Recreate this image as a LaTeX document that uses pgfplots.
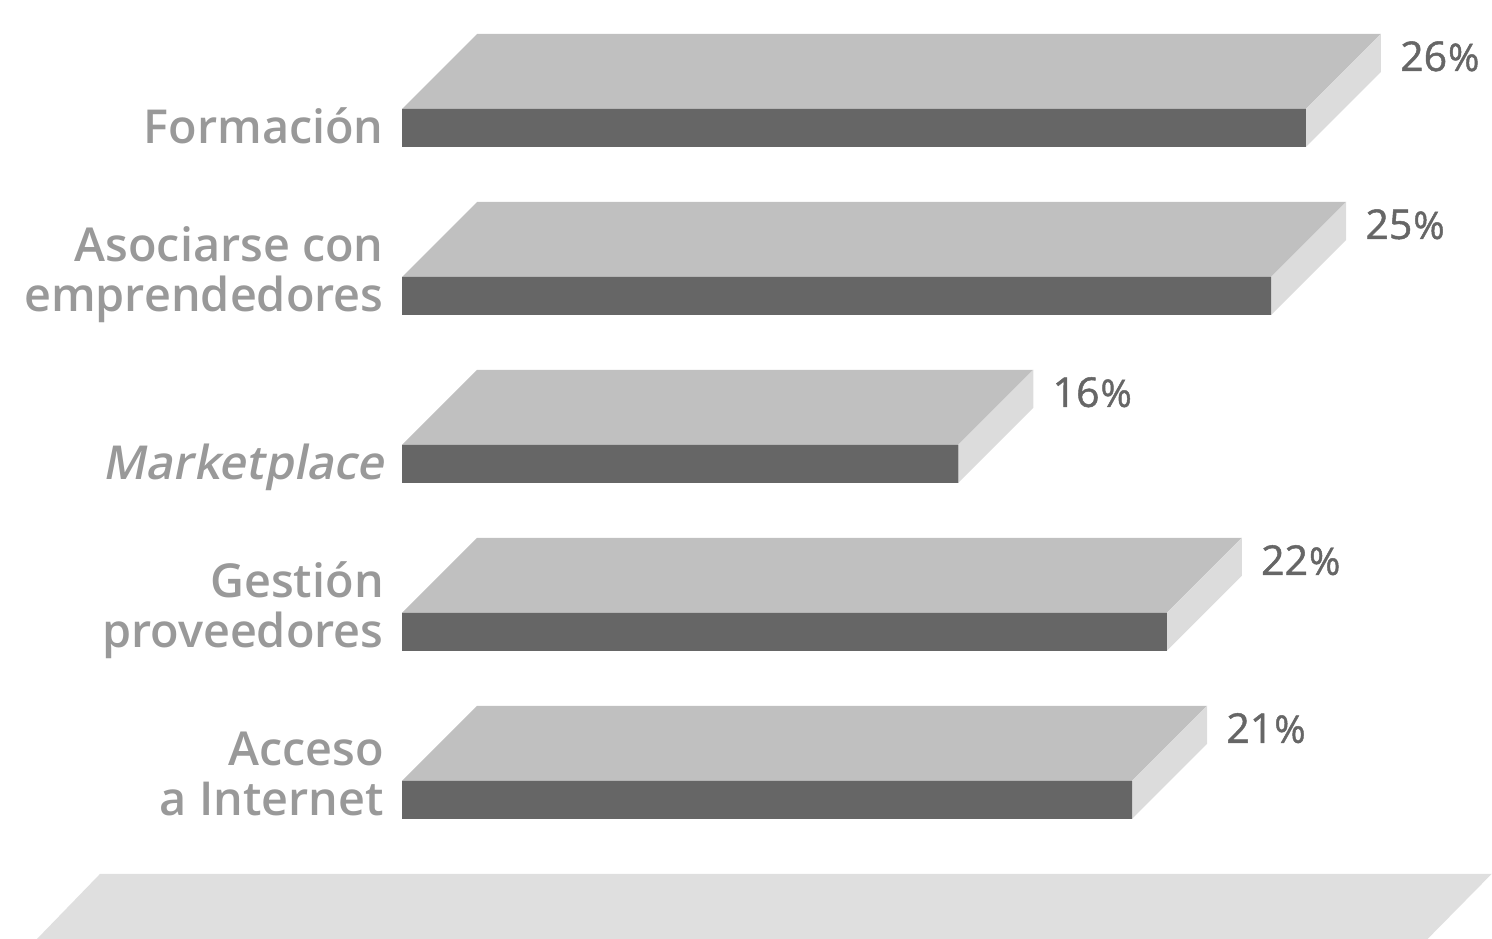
\documentclass[border=0pt]{standalone}
\usepackage{fontspec}
\setmainfont{Open Sans}
\IfFontExistsTF{Open Sans Semibold}{%
  \newfontfamily\labfont{Open Sans Semibold}[ItalicFont={Open Sans Semibold}, ItalicFeatures={FakeSlant=0.2}]%
  \newfontfamily\pctfont{Open Sans}[FakeBold=1.2]%
}{%
  \newfontfamily\labfont{Open Sans}[FakeBold=2.4, LetterSpace=3]%
  \newfontfamily\pctfont{Open Sans}[FakeBold=1.2]%
}
\usepackage{pgfplots}
\pgfplotsset{compat=1.18}
\definecolor{frontc}{HTML}{666666}
\definecolor{topc}{HTML}{C0C0C0}
\definecolor{sidec}{HTML}{DCDCDC}
\definecolor{floorc}{HTML}{DFDFDF}
\definecolor{labgray}{HTML}{999999}
\definecolor{pctgray}{HTML}{666666}
\begin{document}
\begin{tikzpicture}
\begin{axis}[
  width=746pt, height=469.5pt, scale only axis,
  xmin=-11.562, xmax=31.349, ymin=0.1726, ymax=5.7619,
  clip=false,
  axis line style={draw=none},
  major tick length=0pt,
  xtick=\empty,
  ytick={1,2,3,4,5},
  yticklabels={
    {\begin{tabular}[b]{@{}r@{}}Acceso\\a Internet\end{tabular}},
    {\begin{tabular}[b]{@{}r@{}}Gestión\\proveedores\end{tabular}},
    {\itshape Marketplace},
    {\begin{tabular}[b]{@{}r@{}}Asociarse con\\emprendedores\end{tabular}},
    {Formación}},
  yticklabel style={anchor=base east, inner sep=0pt, xshift=192pt, yshift=-8pt,
    font=\labfont\fontsize{23.4}{25}\selectfont, text=labgray},
]
% bounding helper
\addplot[draw=none, forget plot] coordinates {(-11.562,0.1726) (31.349,5.7619)};
% floor
\addplot[fill=floorc, draw=none, forget plot] coordinates {(-10.498,0.1726) (29.508,0.1726) (31.349,0.5595) (-8.686,0.5595)} -- cycle;
% top faces
\addplot[fill=topc, draw=none, forget plot] coordinates {(0,5.1131) (26,5.1131) (28.157,5.5595) (2.157,5.5595)} -- cycle;
\addplot[fill=topc, draw=none, forget plot] coordinates {(0,4.1131) (25,4.1131) (27.157,4.5595) (2.157,4.5595)} -- cycle;
\addplot[fill=topc, draw=none, forget plot] coordinates {(0,3.1131) (16,3.1131) (18.157,3.5595) (2.157,3.5595)} -- cycle;
\addplot[fill=topc, draw=none, forget plot] coordinates {(0,2.1131) (22,2.1131) (24.157,2.5595) (2.157,2.5595)} -- cycle;
\addplot[fill=topc, draw=none, forget plot] coordinates {(0,1.1131) (21,1.1131) (23.157,1.5595) (2.157,1.5595)} -- cycle;
% side faces
\addplot[fill=sidec, draw=none, forget plot] coordinates {(26,4.8869) (26,5.1131) (28.157,5.5595) (28.157,5.3333)} -- cycle;
\addplot[fill=sidec, draw=none, forget plot] coordinates {(25,3.8869) (25,4.1131) (27.157,4.5595) (27.157,4.3333)} -- cycle;
\addplot[fill=sidec, draw=none, forget plot] coordinates {(16,2.8869) (16,3.1131) (18.157,3.5595) (18.157,3.3333)} -- cycle;
\addplot[fill=sidec, draw=none, forget plot] coordinates {(22,1.8869) (22,2.1131) (24.157,2.5595) (24.157,2.3333)} -- cycle;
\addplot[fill=sidec, draw=none, forget plot] coordinates {(21,0.8869) (21,1.1131) (23.157,1.5595) (23.157,1.3333)} -- cycle;
% front faces
\addplot[xbar, bar width=19pt, fill=frontc, draw=none, forget plot] coordinates {(26,5) (25,4) (16,3) (22,2) (21,1)};
% value labels
\addplot[only marks, mark=none, forget plot, point meta=explicit symbolic,
  nodes near coords={\pctfont\fontsize{20.5}{20.5}\selectfont\pgfplotspointmeta\kern0.5pt{\fontsize{19}{19}\selectfont\%}},
  every node near coord/.append style={anchor=base west, inner sep=0pt, xshift=9.5pt, yshift=-18.5pt, text=pctgray}]
  coordinates {(28.157,5.5595)[26] (27.157,4.5595)[25] (18.157,3.5595)[16] (24.157,2.5595)[22] (23.157,1.5595)[21]};
\end{axis}
\end{tikzpicture}
\end{document}
